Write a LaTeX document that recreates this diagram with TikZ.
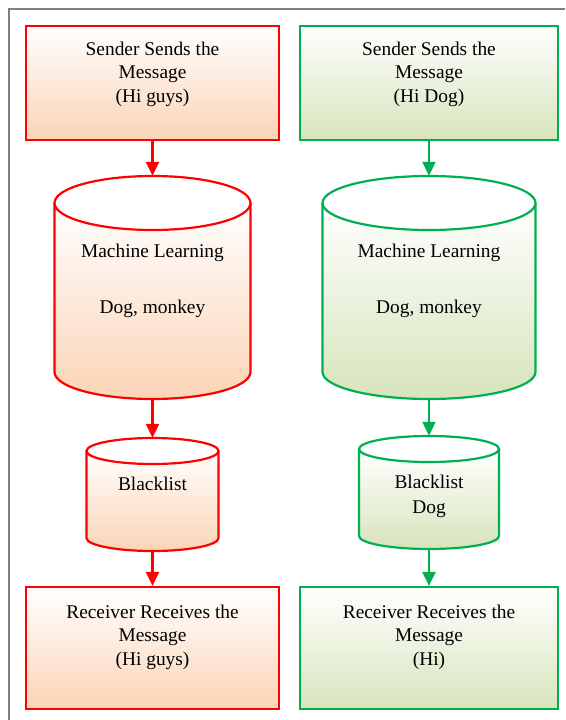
\documentclass[tikz,border=0pt]{standalone}
\usepackage{fontspec}
\setmainfont{Liberation Serif}
\usetikzlibrary{arrows.meta}

\definecolor{redline}{RGB}{255,0,0}
\definecolor{greenline}{RGB}{0,176,80}
\definecolor{redfill}{RGB}{251,212,182}
\definecolor{greenfill}{RGB}{215,228,188}
\definecolor{framegray}{RGB}{128,128,128}

% \drum{cx}{top centre y}{bottom centre y}{x radius}{y radius}{red|green}
\newcommand{\drum}[6]{%
  \path[top color=white, bottom color=#6fill]
    (#1-#4,#2) -- (#1-#4,#3)
    arc[start angle=180, end angle=0, x radius=#4, y radius=#5]
    -- (#1+#4,#2) -- cycle;
  \draw[#6line, line width=2.2pt]
    (#1-#4,#2) -- (#1-#4,#3)
    arc[start angle=180, end angle=0, x radius=#4, y radius=#5]
    -- (#1+#4,#2);
  \draw[#6line, line width=2.2pt, fill=white]
    (#1,#2) ellipse[x radius=#4, y radius=#5];
}

\tikzset{
  msgbox/.style={rectangle, line width=2.2pt, inner sep=0pt},
  redbox/.style={msgbox, draw=redline, top color=white, bottom color=redfill},
  greenbox/.style={msgbox, draw=greenline, top color=white, bottom color=greenfill},
  drumnode/.style={rectangle, draw=none, inner sep=0pt},
  txt/.style={font=\fontsize{19.4}{23.3}\selectfont, align=center,
    inner sep=0pt, anchor=north, text=black},
  redarrow/.style={redline, line width=2.2pt,
    -{Triangle[width=13pt,length=14pt]}},
  greenarrow/.style={greenline, line width=2.2pt,
    -{Triangle[width=13pt,length=14pt]}},
}

\begin{document}
\begin{tikzpicture}[x=1pt, y=-1pt]
\useasboundingbox (0,0) rectangle (565,720);

% surrounding frame
\draw[framegray, line width=2pt] (9,720) -- (9,8.5) -- (565,8.5);

% ---------- left column (red) ----------
\node[redbox, minimum width=253pt, minimum height=114pt] (sendA) at (152.5,83) {};
\node[txt] (sendAtxt) at (152.5,42) {Sender Sends the\\Message\\(Hi guys)};

\drum{152.5}{203}{372}{98}{27}{red}
\node[drumnode, minimum width=196pt, minimum height=223pt] (mlA) at (152.5,287.5) {};
\node[txt] (mlAtxt) at (152.5,244) {Machine Learning\\[32.7pt]Dog, monkey};

\drum{152.5}{451}{538}{66}{13}{red}
\node[drumnode, minimum width=132pt, minimum height=113pt] (blA) at (152.5,494.5) {};
\node[txt] (blAtxt) at (152.5,477) {Blacklist};

\node[redbox, minimum width=253pt, minimum height=122pt] (recvA) at (152.5,648) {};
\node[txt] (recvAtxt) at (152.5,605) {Receiver Receives the\\Message\\(Hi guys)};

\draw[redarrow] (sendA.south) -- (mlA.north);
\draw[redarrow] (mlA.south) -- (blA.north);
\draw[redarrow] (blA.south) -- (recvA.north);

% ---------- right column (green) ----------
\node[greenbox, minimum width=258pt, minimum height=114pt] (sendB) at (429,83) {};
\node[txt] (sendBtxt) at (429,42) {Sender Sends the\\Message\\(Hi Dog)};

\drum{429}{203}{372}{106.5}{27}{green}
\node[drumnode, minimum width=213pt, minimum height=223pt] (mlB) at (429,287.5) {};
\node[txt] (mlBtxt) at (429,244) {Machine Learning\\[32.7pt]Dog, monkey};

\drum{429}{449}{536}{70}{13}{green}
\node[drumnode, minimum width=140pt, minimum height=113pt] (blB) at (429,492.5) {};
\node[txt] (blBtxt) at (429,475) {Blacklist\\[1.7pt]Dog};

\node[greenbox, minimum width=258pt, minimum height=122pt] (recvB) at (429,648) {};
\node[txt] (recvBtxt) at (429,605) {Receiver Receives the\\Message\\(Hi)};

\draw[greenarrow] (sendB.south) -- (mlB.north);
\draw[greenarrow] (mlB.south) -- (blB.north);
\draw[greenarrow] (blB.south) -- (recvB.north);
\end{tikzpicture}
\end{document}
